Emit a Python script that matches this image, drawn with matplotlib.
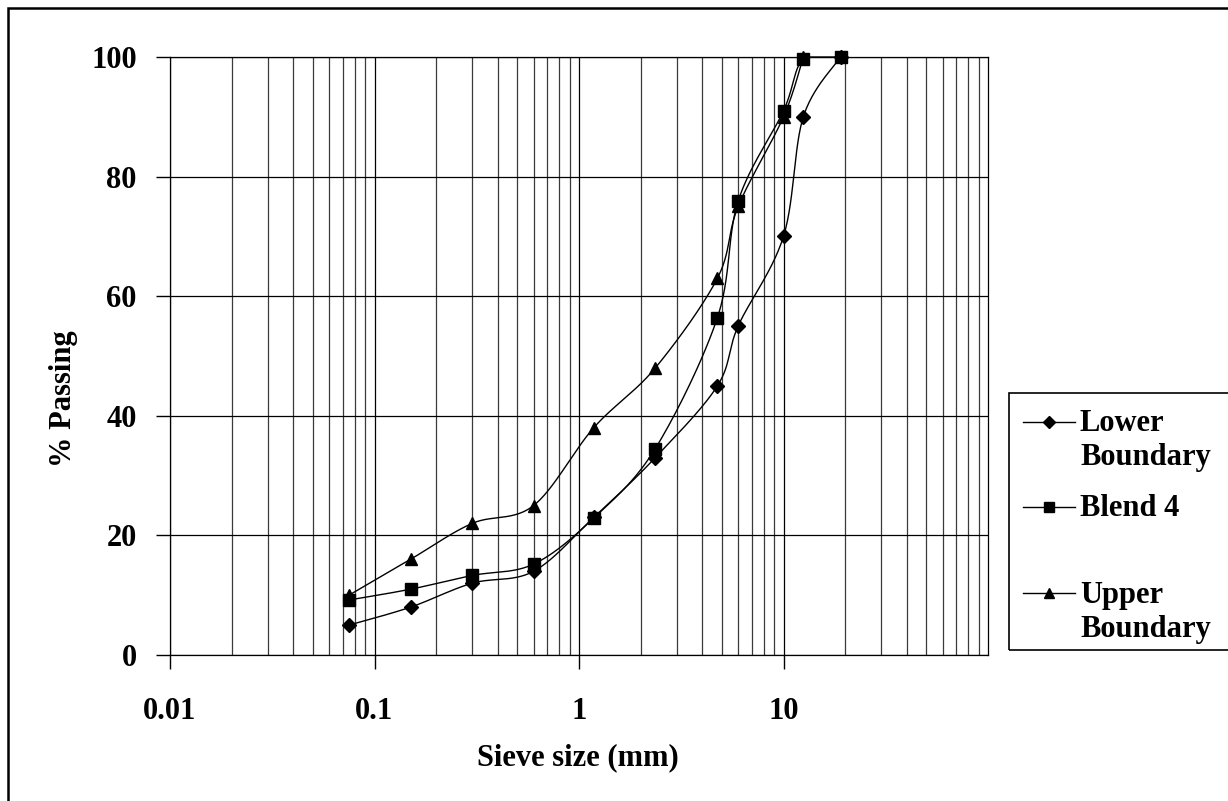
import numpy as np
import matplotlib
matplotlib.use("Agg")
import matplotlib.pyplot as plt
from matplotlib.lines import Line2D
from matplotlib.patches import Rectangle
from matplotlib.ticker import FixedLocator, NullFormatter, LogLocator

# sieve sizes (mm) and % passing
sieve = [0.075, 0.15, 0.3, 0.6, 1.18, 2.36, 4.75, 6, 10, 12.5, 19]
lower = [5, 8, 12, 14, 23, 33, 45, 55, 70, 90, 100]
blend4 = [9.2, 11, 13.3, 15.2, 22.9, 34.5, 56.4, 75.9, 91, 99.7, 100]
upper = [10, 16, 22, 25, 38, 48, 63, 75, 90, 100]  # upper limit stops at 12.5 mm

x_ticks = [0.01, 0.1, 1, 10]
x_ticklabels = ["0.01", "0.1", "1", "10"]
y_ticks = [0, 20, 40, 60, 80, 100]

W, H = 1228, 801
FONT = "Liberation Serif"
FS = 22

plt.rcParams['font.family'] = FONT
plt.rcParams['font.weight'] = 'bold'

fig = plt.figure(figsize=(W / 100, H / 100), dpi=100)
ax = fig.add_axes([170 / W, 1 - 655 / H, (988 - 170) / W, (655 - 57) / H])
ax.set_xscale('log')
ax.set_xlim(0.01, 100)
ax.set_ylim(0, 100)


def smooth(xs, ys, n=30):
    # Excel-like smoothed line: Catmull-Rom in display space
    pts = ax.transData.transform(np.column_stack([xs, ys]))
    p = np.vstack([pts[0], pts, pts[-1]])
    out = []
    t = np.linspace(0, 1, n)[:, None]
    for i in range(1, len(p) - 2):
        p0, p1, p2, p3 = p[i - 1], p[i], p[i + 1], p[i + 2]
        c1 = p1 + (p2 - p0) / 6
        c2 = p2 - (p3 - p1) / 6
        seg = ((1 - t) ** 3) * p1 + 3 * ((1 - t) ** 2) * t * c1 + 3 * (1 - t) * t ** 2 * c2 + t ** 3 * p2
        out.append(seg if i == 1 else seg[1:])
    out = np.vstack(out)
    return ax.transData.inverted().transform(out)


series = [(lower, 'D', 7.5), (blend4, 's', 8.5), (upper, '^', 8.5)]
for ys, mk, ms in series:
    xs = sieve[:len(ys)]
    c = smooth(xs, ys)
    c[:, 1] = np.minimum(c[:, 1], 100)
    ax.plot(c[:, 0], c[:, 1], color='black', lw=1.0, clip_on=False, zorder=3)
    ax.plot(xs, ys, linestyle='none', marker=mk, ms=ms, color='black', clip_on=False, zorder=4)

# grid
ax.xaxis.set_major_locator(FixedLocator(x_ticks))
ax.xaxis.set_minor_locator(LogLocator(base=10, subs=np.arange(2, 10)))
ax.xaxis.set_minor_formatter(NullFormatter())
ax.set_xticklabels(x_ticklabels)
ax.set_yticks(y_ticks)
ax.grid(True, which='major', color='black', lw=0.9)
ax.grid(True, which='minor', axis='x', color='#3a3a3a', lw=0.9)
ax.set_axisbelow(True)

ax.tick_params(axis='x', which='major', direction='out', length=10, width=1, pad=20, labelsize=FS)
ax.tick_params(axis='x', which='minor', length=0)
ax.tick_params(axis='y', direction='out', length=10, width=1, pad=14, labelsize=FS)
for lab in ax.get_xticklabels() + ax.get_yticklabels():
    lab.set_fontweight('bold')

for side in ['top', 'right', 'left', 'bottom']:
    ax.spines[side].set_linewidth(0.9)

fig.text(578 / W, 1 - 758 / H, "Sieve size (mm)", ha='center', va='center', fontsize=FS, fontweight='bold')
fig.text(63 / W, 1 - 399 / H, "% Passing", ha='center', va='center', rotation=90, fontsize=FS, fontweight='bold')

# outer chart border
fig.patches.append(Rectangle((8 / W, -0.1), 1.2, 1 - 8 / H + 0.1, transform=fig.transFigure,
                             fill=False, ec='black', lw=1.8))

# legend box
fig.patches.append(Rectangle((1009 / W, 1 - 650 / H), 0.3, (650 - 393) / H, transform=fig.transFigure,
                             fill=False, ec='black', lw=1.2))
entries = [(422, 'D', 6.5, ["Lower", "Boundary"]),
           (507, 's', 7.5, ["Blend 4"]),
           (593, '^', 7.5, ["Upper", "Boundary"])]
for yy, mk, ms, lines in entries:
    fy = 1 - yy / H
    fig.add_artist(Line2D([1023 / W, 1075 / W], [fy, fy], color='black', lw=1.0,
                          transform=fig.transFigure))
    fig.add_artist(Line2D([1049 / W], [fy], marker=mk, ms=ms, color='black',
                          transform=fig.transFigure))
    for k, t in enumerate(lines):
        fig.text(1080 / W, 1 - (yy + 2 + 34 * k) / H, t, ha='left', va='center',
                 fontsize=FS, fontweight='bold')

fig.savefig("out.png", dpi=100)
